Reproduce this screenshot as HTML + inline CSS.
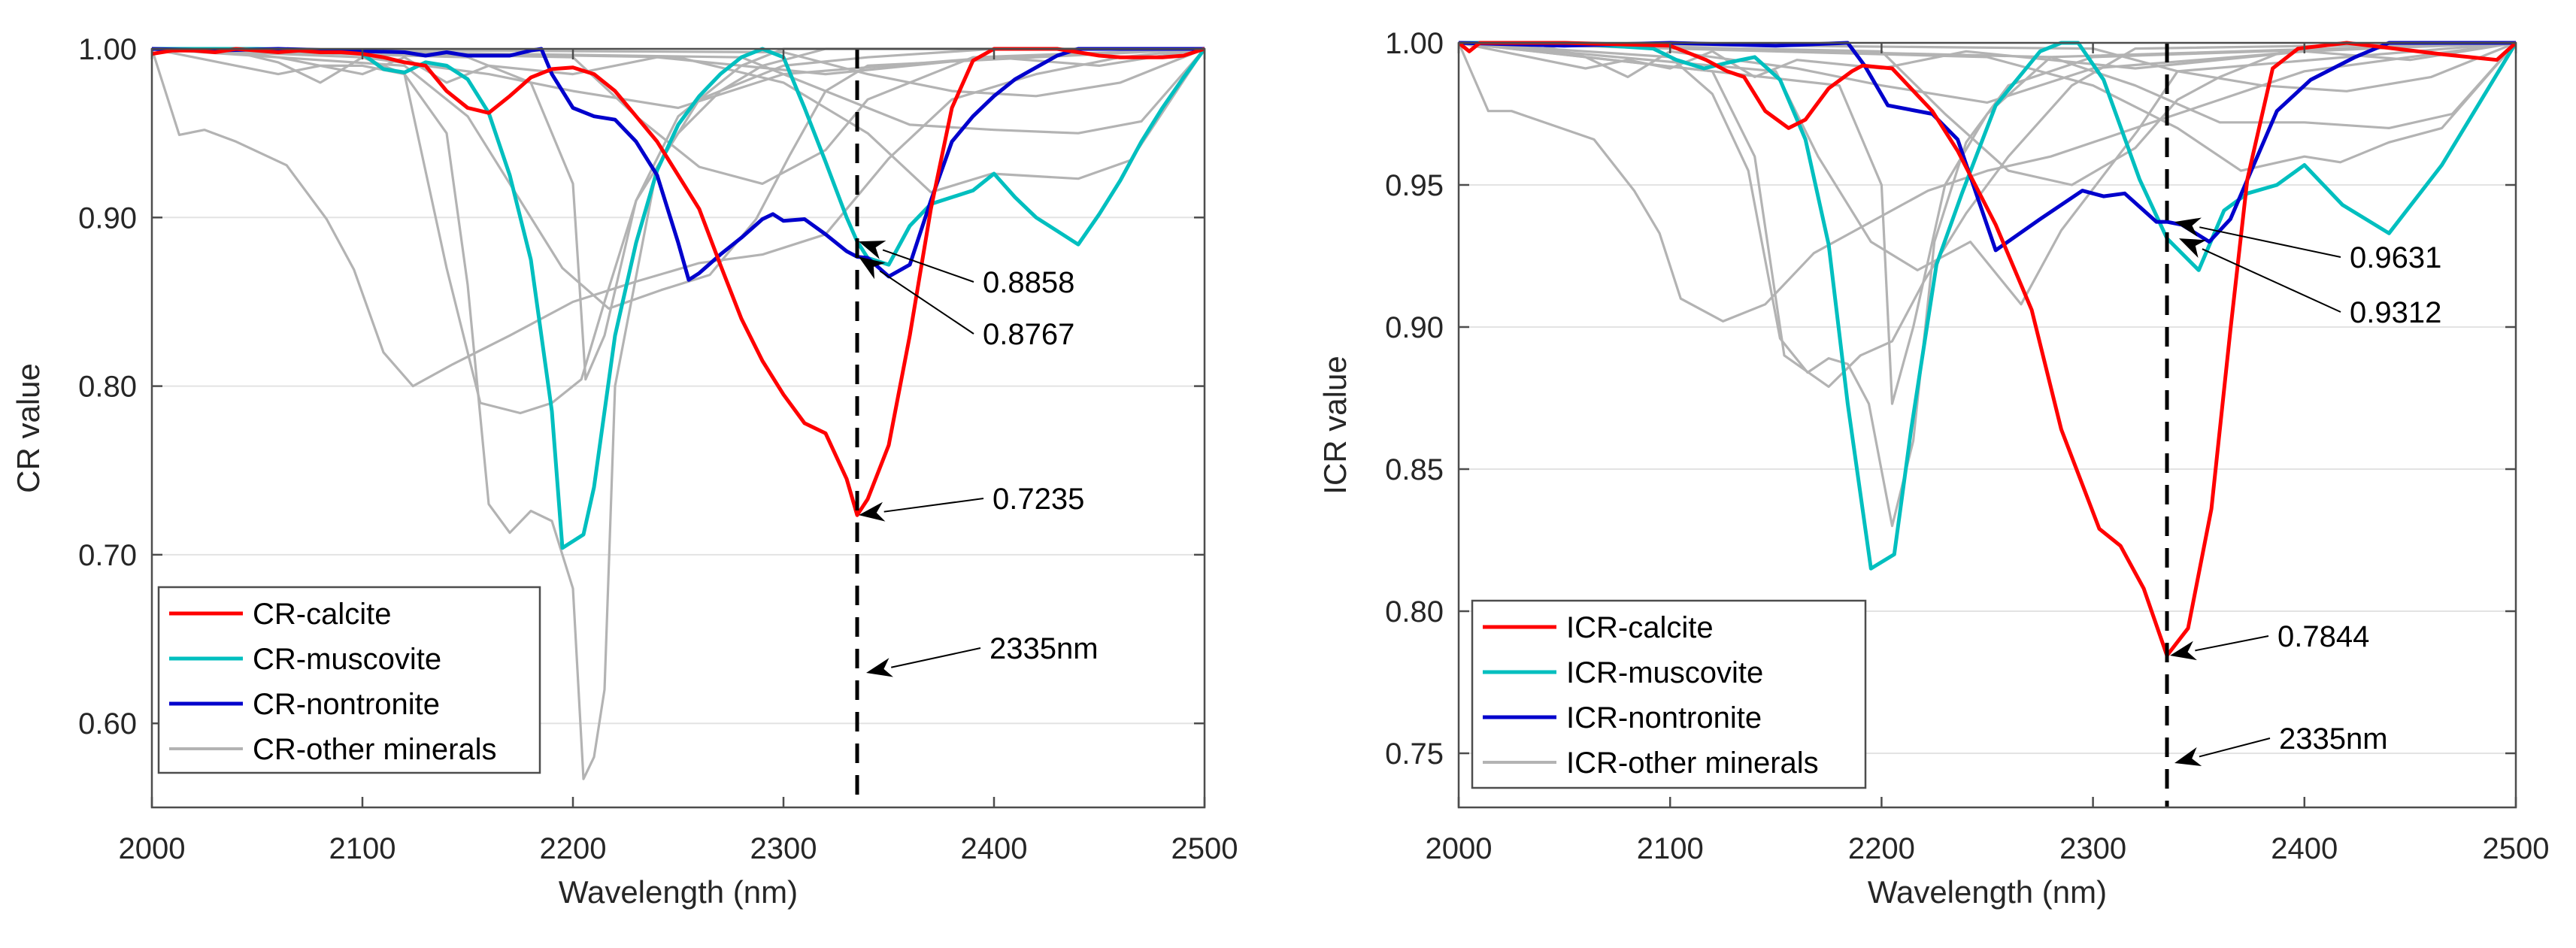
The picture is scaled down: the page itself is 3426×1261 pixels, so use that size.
<!DOCTYPE html>
<html><head><meta charset="utf-8"><style>
html,body{margin:0;padding:0;background:#fff;}
svg{display:block;font-family:"Liberation Sans",Arial,sans-serif;}
</style></head><body>
<svg id="chart" width="3426" height="1261" viewBox="0 0 3426 1261" xmlns="http://www.w3.org/2000/svg">
<rect width="3426" height="1261" fill="#fff"/>
</svg>
<script>
// ---------- LEFT (CR) data ----------
const crCalciteWl = [2000,2010,2020,2030,2040,2050,2060,2070,2080,2090,2100,2110,2120,2130,2140,2150,2160,2170,2180,2190,2200,2210,2220,2230,2240,2250,2260,2270,2280,2290,2300,2310,2320,2330,2335,2340,2350,2360,2370,2380,2390,2400,2410,2420,2430,2440,2450,2460,2470,2480,2490,2500];
const crCalciteVal = [.997,.999,.999,.998,1,.999,.998,.999,.998,.998,.997,.995,.992,.99,.975,.965,.962,.972,.983,.988,.989,.985,.975,.96,.945,.925,.905,.872,.84,.815,.795,.778,.772,.745,.7235,.733,.765,.83,.905,.965,.993,1,1,1,1,.998,.996,.995,.995,.995,.996,1];
const crMuscWl = [2000,2050,2090,2100,2110,2120,2130,2140,2150,2160,2170,2180,2190,2195,2205,2210,2220,2230,2240,2250,2260,2270,2280,2290,2300,2310,2320,2330,2335,2340,2350,2360,2370,2380,2390,2400,2410,2420,2430,2440,2450,2460,2470,2480,2490,2500];
const crMuscVal = [1,1,.999,.997,.988,.986,.992,.99,.982,.962,.925,.875,.785,.704,.712,.74,.83,.885,.928,.955,.972,.985,.995,1,.995,.965,.933,.9,.8858,.876,.872,.895,.908,.912,.916,.926,.912,.9,.892,.884,.902,.922,.945,.965,.983,1];
const crNontWl = [2000,2030,2060,2090,2120,2130,2140,2150,2170,2180,2185,2190,2200,2210,2220,2230,2240,2250,2255,2260,2270,2280,2290,2295,2300,2310,2320,2330,2335,2340,2350,2360,2370,2380,2390,2400,2410,2420,2430,2440,2500];
const crNontVal = [1,.999,1,.999,.998,.996,.998,.996,.996,.999,1,.985,.965,.96,.958,.945,.925,.885,.863,.867,.878,.888,.899,.902,.898,.899,.89,.88,.8767,.876,.865,.872,.91,.945,.96,.972,.982,.989,.996,1,1];
const crOtherWl = [
 [2000,2040,2060,2080,2100,2120,2140,2150,2160,2170,2180,2190,2200,2205,2210,2215,2220,2240,2260,2300,2340,2400,2500],
 [2000,2013,2025,2040,2064,2083,2096,2110,2124,2143,2170,2200,2230,2260,2290,2320,2350,2380,2420,2460,2500],
 [2000,2100,2120,2140,2156,2175,2190,2204,2215,2230,2250,2270,2290,2320,2500],
 [2000,2150,2180,2200,2206,2215,2230,2250,2280,2300,2500],
 [2000,2120,2150,2170,2195,2217,2242,2265,2287,2303,2320,2340,2500],
 [2000,2250,2300,2340,2370,2399,2440,2465,2500],
 [2000,2280,2320,2360,2400,2440,2470,2500],
 [2000,2300,2340,2380,2420,2460,2500],
 [2000,2020,2040,2060,2080,2100,2120,2140,2160,2200,2240,2280,2320,2360,2400,2450,2500],
 [2000,2040,2060,2080,2100,2130,2160,2200,2250,2300,2350,2400,2500],
 [2000,2200,2230,2260,2290,2320,2340,2360,2390,2500]
];
const crOtherVal = [
 [1,.998,.995,.99,.99,.985,.95,.86,.73,.713,.726,.72,.68,.567,.58,.62,.80,.93,.97,.99,.995,1,1],
 [1,.949,.952,.945,.931,.899,.869,.82,.80,.813,.83,.85,.862,.873,.878,.89,.935,.97,.985,.995,1],
 [1,.995,.985,.87,.79,.784,.79,.804,.85,.91,.95,.975,.99,1,1],
 [1,.995,.98,.92,.804,.83,.91,.96,.99,1,1],
 [1,.99,.96,.92,.87,.846,.857,.866,.899,.937,.975,.99,1],
 [1,.995,.98,.95,.915,.926,.923,.934,1],
 [1,.995,.975,.955,.952,.95,.957,1],
 [1,.998,.985,.975,.972,.98,1],
 [1,.995,.99,.985,.99,.985,.995,.98,.99,.985,.995,.99,.985,.99,.995,.99,1],
 [1,.998,.992,.98,.995,.99,.985,.975,.965,.985,.99,.995,1],
 [1,.995,.96,.93,.92,.94,.97,.98,.995,1]
];
const crTicksY = [0.60,0.70,0.80,0.90,1.00];
const crTickLabelsY = ["0.60","0.70","0.80","0.90","1.00"];
const crAnnotations = [["0.8858",.8858],["0.8767",.8767],["0.7235",.7235],["2335nm",null]];

// ---------- RIGHT (ICR) data ----------
const icrCalciteWl = [2000,2005,2010,2050,2100,2117,2127,2135,2145,2156,2164,2175,2186,2191,2205,2224,2236,2254,2271,2285,2303,2313,2324,2335,2345,2356,2365,2373,2385,2397,2420,2465,2491,2500];
const icrCalciteVal = [1,.997,1,1,.999,.994,.99,.988,.976,.97,.973,.984,.99,.992,.991,.976,.962,.936,.906,.864,.829,.823,.808,.7844,.794,.836,.899,.952,.991,.998,1,.996,.994,1];
const icrMuscWl = [2000,2050,2092,2103,2116,2127,2140,2152,2164,2175,2184,2195,2206,2214,2226,2238,2254,2275,2285,2293,2305,2322,2335,2350,2362,2373,2387,2400,2418,2440,2465,2500];
const icrMuscVal = [1,1,.998,.994,.991,.993,.995,.987,.966,.929,.873,.815,.82,.864,.922,.947,.978,.997,1,1,.987,.952,.9312,.92,.941,.947,.95,.957,.943,.933,.957,1];
const icrNontWl = [2000,2050,2100,2150,2184,2192,2203,2224,2236,2254,2275,2295,2305,2315,2330,2335,2342,2355,2365,2387,2403,2424,2440,2500];
const icrNontVal = [1,.999,1,.999,1,.992,.978,.975,.966,.927,.938,.948,.946,.947,.937,.937,.936,.93,.938,.976,.987,.995,1,1];
const icrOtherWl = [
 [2000,2100,2120,2137,2152,2165,2175,2184,2194,2205,2215,2225,2240,2260,2300,2500],
 [2000,2014,2025,2064,2083,2095,2105,2125,2145,2168,2195,2222,2250,2280,2320,2360,2400,2500],
 [2000,2120,2140,2154,2175,2190,2205,2220,2240,2260,2290,2320,2500],
 [2000,2180,2200,2205,2215,2230,2250,2280,2500],
 [2000,2150,2170,2195,2217,2242,2266,2285,2321,2340,2500],
 [2000,2250,2300,2340,2370,2400,2417,2440,2465,2500],
 [2000,2280,2320,2360,2400,2440,2470,2500],
 [2000,2300,2340,2380,2420,2460,2500],
 [2000,2020,2040,2060,2080,2100,2120,2140,2160,2200,2240,2280,2320,2360,2400,2450,2500],
 [2000,2040,2060,2080,2100,2130,2160,2200,2250,2300,2350,2400,2500],
 [2000,2200,2230,2260,2290,2320,2340,2360,2390,2500]
];
const icrOtherVal = [
 [1,.995,.982,.955,.896,.884,.889,.887,.873,.83,.86,.93,.965,.985,.995,1],
 [1,.976,.976,.966,.948,.933,.91,.902,.908,.926,.937,.948,.955,.96,.97,.98,.99,1],
 [1,.99,.96,.89,.879,.89,.895,.916,.94,.96,.985,.998,1],
 [1,.985,.95,.873,.9,.95,.975,.995,1],
 [1,.99,.96,.93,.92,.93,.908,.934,.969,.99,1],
 [1,.995,.985,.97,.955,.96,.958,.965,.97,1],
 [1,.995,.985,.972,.972,.97,.975,1],
 [1,.998,.99,.985,.983,.988,1],
 [1,.997,.994,.991,.994,.991,.997,.988,.994,.991,.997,.994,.991,.994,.997,.994,1],
 [1,.999,.995,.988,.997,.994,.991,.985,.979,.991,.994,.997,1],
 [1,.997,.975,.955,.95,.963,.98,.988,.997,1]
];
const icrTicksY = [0.75,0.80,0.85,0.90,0.95,1.00];
const icrTickLabelsY = ["0.75","0.80","0.85","0.90","0.95","1.00"];
const icrAnnotations = [["0.9631",.937],["0.9312",.9312],["0.7844",.7844],["2335nm",null]];

const ticksX = [2000,2100,2200,2300,2400,2500];
const markerWl = 2335;

const NS = "http://www.w3.org/2000/svg";
const svg = document.getElementById('chart');
function mk(tag, attrs, parent){
  const e = document.createElementNS(NS, tag);
  for (const k in attrs) e.setAttribute(k, attrs[k]);
  (parent||svg).appendChild(e);
  return e;
}

function drawPlot(P){
  const g = mk('g', {});
  
  
  const sx = w => P.x0 + (w - 2000) / 500 * (P.x1 - P.x0);
  const sy = v => P.yTop + (P.vTop - v) * P.pxPerUnit;
  // gridlines
  P.ticksY.forEach((t, i) => {
    const y = sy(t);
    const gl = mk('line', {x1:P.x0, x2:P.x1, y1:y, y2:y, stroke:'#e3e3e3', 'stroke-width':2}, g);
    
    
  });
  // clip
  const cid = P.prefix + 'clip';
  const cp = mk('clipPath', {id: cid}, g);
  mk('rect', {x:P.x0, y:P.yTop - 4, width:P.x1 - P.x0, height:P.yBot - P.yTop + 4}, cp);
  const lines = mk('g', {'clip-path':'url(#' + cid + ')'}, g);
  const path = (wl, vals) => wl.map((w, i) => (i ? 'L' : 'M') + sx(w).toFixed(1) + ',' + sy(vals[i]).toFixed(1)).join(' ');
  P.otherWl.forEach((wl, i) => {
    const p = mk('path', {d: path(wl, P.otherVal[i]), fill:'none', stroke:'#b3b3b3', 'stroke-width':3.2, 'stroke-linejoin':'round'}, lines);
    
    
  });
  const main = [[P.muscWl, P.muscVal, '#00bfbf', 'muscovite-line'], [P.nontWl, P.nontVal, '#0000cc', 'nontronite-line'], [P.calWl, P.calVal, '#ff0000', 'calcite-line']];
  main.forEach(m => {
    const p = mk('path', {d: path(m[0], m[1]), fill:'none', stroke:m[2], 'stroke-width':5, 'stroke-linejoin':'round'}, lines);
    
    
  });
  // dashed marker line
  const mx = sx(markerWl);
  const dl = mk('line', {x1:mx, x2:mx, y1:P.yTop, y2:P.yBot, stroke:'#000', 'stroke-width':5, 'stroke-dasharray':'26,16'}, g);
  
  
  // axes box
  const box = mk('rect', {x:P.x0, y:P.yTop, width:P.x1 - P.x0, height:P.yBot - P.yTop, fill:'none', stroke:'#4d4d4d', 'stroke-width':2.5}, g);
  
  
  // y ticks
  P.ticksY.forEach((t, i) => {
    const y = sy(t);
    mk('line', {x1:P.x0, x2:P.x0 + 14, y1:y, y2:y, stroke:'#4d4d4d', 'stroke-width':2.5}, g);
    mk('line', {x1:P.x1, x2:P.x1 - 14, y1:y, y2:y, stroke:'#4d4d4d', 'stroke-width':2.5}, g);
    const tx = mk('text', {x:P.x0 - 20, y:y + 14, 'text-anchor':'end', 'font-size':40, fill:'#262626'}, g);
    tx.textContent = P.tickLabelsY[i];
    
    
  });
  // x ticks
  ticksX.forEach(t => {
    const x = sx(t);
    mk('line', {x1:x, x2:x, y1:P.yBot, y2:P.yBot - 14, stroke:'#4d4d4d', 'stroke-width':2.5}, g);
    mk('line', {x1:x, x2:x, y1:P.yTop, y2:P.yTop + 14, stroke:'#4d4d4d', 'stroke-width':2.5}, g);
    const tx = mk('text', {x:x, y:1142, 'text-anchor':'middle', 'font-size':40, fill:'#262626'}, g);
    tx.textContent = String(t);
    
    
  });
  const xl = mk('text', {x:(P.x0 + P.x1) / 2, y:1201, 'text-anchor':'middle', 'font-size':42, fill:'#262626'}, g);
  xl.textContent = 'Wavelength (nm)';
  
  
  const yl = mk('text', {x:P.yLabelX, y:(P.yTop + P.yBot) / 2, 'text-anchor':'middle', 'font-size':42, fill:'#262626', transform:'rotate(-90 ' + P.yLabelX + ' ' + (P.yTop + P.yBot) / 2 + ')'}, g);
  yl.textContent = P.yTitle;
  
  
  // annotations
  P.annotations.forEach((a, i) => {
    const tipY = a[1] === null ? P.nmTipY : sy(a[1]);
    const tipX = mx + P.tipDx[i];
    const tx = P.textX[i], ty = P.textY[i];
    const ang = Math.atan2(ty - tipY, tx - 12 - tipX);
    const L = 34, W = 13;
    const bx = tipX + L * Math.cos(ang), by = tipY + L * Math.sin(ang);
    const ln = mk('line', {x1:tx - 12, y1:ty, x2:bx, y2:by, stroke:'#000', 'stroke-width':2}, g);
    
    
    const nx = -Math.sin(ang), ny = Math.cos(ang);
    const bx2 = tipX + (L - 10) * Math.cos(ang), by2 = tipY + (L - 10) * Math.sin(ang);
    const head = mk('polygon', {points: tipX + ',' + tipY + ' ' + (bx + nx * W) + ',' + (by + ny * W) + ' ' + bx2 + ',' + by2 + ' ' + (bx - nx * W) + ',' + (by - ny * W), fill:'#000'}, g);
    
    
    const t = mk('text', {x:tx, y:ty + 14, 'font-size':40, fill:'#000'}, g);
    t.textContent = a[0];
    
    
  });
  // legend
  const lg = mk('g', {}, g);
  
  
  mk('rect', {x:P.leg[0], y:P.leg[1], width:P.leg[2], height:P.leg[3], fill:'#fff', stroke:'#4d4d4d', 'stroke-width':2.5}, lg);
  const entries = [['calcite', '#ff0000'], ['muscovite', '#00bfbf'], ['nontronite', '#0000cc'], ['other minerals', '#b3b3b3']];
  entries.forEach((e, i) => {
    const y = P.leg[1] + 35 + i * 60;
    const ent = mk('g', {}, lg);
    
    
    mk('line', {x1:P.leg[0] + 14, x2:P.leg[0] + 112, y1:y, y2:y, stroke:e[1], 'stroke-width':i === 3 ? 4 : 5}, ent);
    const t = mk('text', {x:P.leg[0] + 125, y:y + 14, 'font-size':40, fill:'#000'}, ent);
    t.textContent = P.prefixLabel + '-' + e[0];
  });
}

drawPlot({prefix:'cr', prefixLabel:'CR', x0:202, x1:1602, yTop:65, yBot:1074, vTop:1.0, pxPerUnit:2243,
  calWl:crCalciteWl, calVal:crCalciteVal, muscWl:crMuscWl, muscVal:crMuscVal, nontWl:crNontWl, nontVal:crNontVal,
  otherWl:crOtherWl, otherVal:crOtherVal, ticksY:crTicksY, tickLabelsY:crTickLabelsY,
  yTitle:'CR value', yLabelX:52, annotations:crAnnotations,
  tipDx:[2,2,2,12], textX:[1307,1307,1320,1316], textY:[375,444,663,862], nmTipY:895,
  leg:[211,781,507,247]});
drawPlot({prefix:'icr', prefixLabel:'ICR', x0:1940, x1:3346, yTop:57, yBot:1074, vTop:1.0, pxPerUnit:3780,
  calWl:icrCalciteWl, calVal:icrCalciteVal, muscWl:icrMuscWl, muscVal:icrMuscVal, nontWl:icrNontWl, nontVal:icrNontVal,
  otherWl:icrOtherWl, otherVal:icrOtherVal, ticksY:icrTicksY, tickLabelsY:icrTickLabelsY,
  yTitle:'ICR value', yLabelX:1790, annotations:icrAnnotations,
  tipDx:[10,16,4,10], textX:[3125,3125,3029,3031], textY:[342,415,846,982], nmTipY:1015,
  leg:[1958,799,523,249]});
</script>
</body></html>
